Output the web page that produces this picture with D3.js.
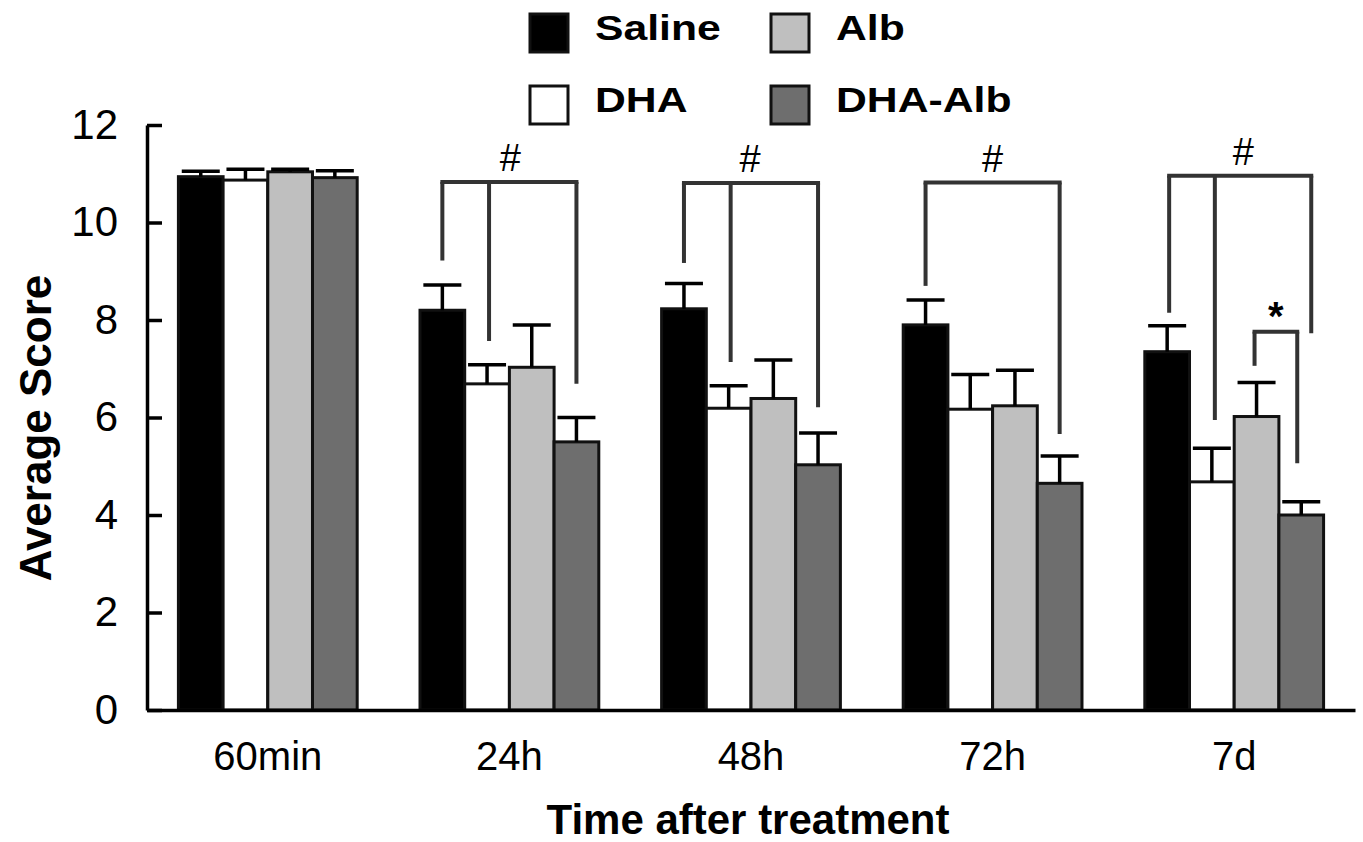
<!DOCTYPE html>
<html>
<head>
<meta charset="utf-8">
<script src="https://cdn.jsdelivr.net/npm/d3@7"></script>
<style>
  body { margin: 0; background: #fff; }
  text { font-family: "Liberation Sans", Arial, sans-serif; }
</style>
</head>
<body>
<div class="chart"></div>
<script>
// values
var times = ['60min', '24h', '48h', '72h', '7d'];
var groups = ['Saline', 'DHA', 'Alb', 'DHA-Alb'];
var colors = ['#000000', '#ffffff', '#bfbfbf', '#6e6e6e'];

var saline = [10.94, 8.2, 8.23, 7.9, 7.35];
var salineErr = [0.11, 0.52, 0.52, 0.51, 0.53];
var dha = [10.87, 6.69, 6.19, 6.17, 4.68];
var dhaErr = [0.22, 0.39, 0.46, 0.71, 0.69];
var alb = [11.04, 7.03, 6.39, 6.24, 6.02];
var albErr = [0.05, 0.87, 0.79, 0.73, 0.7];
var dhaAlb = [10.92, 5.5, 5.03, 4.65, 4.0];
var dhaAlbErr = [0.14, 0.5, 0.65, 0.56, 0.27];

var yTicks = [0, 2, 4, 6, 8, 10, 12];

// significance brackets: time, level, legs [series, bottom value, px offset], mark
var brackets = [
  {time: '24h', top: 10.83, legs: [['Saline', 9.22, 0], ['DHA', 7.57, 2], ['DHA-Alb', 6.69, 0]], mark: '#', dx: 1},
  {time: '48h', top: 10.81, legs: [['Saline', 9.17, 0], ['DHA', 7.14, 2], ['DHA-Alb', 6.21, 0]], mark: '#', dx: -1},
  {time: '72h', top: 10.82, legs: [['Saline', 8.7, 0], ['DHA-Alb', 5.66, 0]], mark: '#', dx: 0},
  {time: '7d', top: 10.96, legs: [['Saline', 8.15, 2], ['DHA', 5.95, 3], ['DHA-Alb', 7.73, 10]], mark: '#', dx: 9},
  {time: '7d', top: 7.76, legs: [['Alb', 7.06, -2], ['DHA-Alb', 5.06, -4]], mark: '*', dx: 0}
];

var series = [saline, dha, alb, dhaAlb];
var errs = [salineErr, dhaErr, albErr, dhaAlbErr];

var data = [];
times.forEach(function(t, i) {
  groups.forEach(function(g, j) {
    data.push({time: t, group: g, value: series[j][i], err: errs[j][i], color: colors[j]});
  });
});

var fullWidth = 1363;
var fullHeight = 842;

var svg = d3.select('.chart').append('svg')
  .attr('width', fullWidth)
  .attr('height', fullHeight);

var xScale = d3.scaleBand()
  .domain(times)
  .range([147, 1355])
  .paddingInner(0.26)
  .paddingOuter(0.13);

var xSub = d3.scaleBand()
  .domain(groups)
  .range([0, xScale.bandwidth()]);

var yScale = d3.scaleLinear()
  .domain([0, 12])
  .range([710, 125]);

// bars
svg.append('g').selectAll('rect.bar')
    .data(data)
  .enter().append('rect')
    .attr('x', function(d) { return xScale(d.time) + xSub(d.group); })
    .attr('width', xSub.bandwidth())
    .attr('y', function(d) { return yScale(d.value); })
    .attr('height', function(d) { return yScale(0) - yScale(d.value); })
    .attr('fill', function(d) { return d.color; })
    .attr('stroke', '#111')
    .attr('stroke-width', 3);

// error bars (upper only)
var errG = svg.append('g').attr('stroke', '#000').attr('stroke-width', 3.5);
data.forEach(function(d) {
  var cx = xScale(d.time) + xSub(d.group) + xSub.bandwidth() / 2;
  errG.append('line')
    .attr('x1', cx).attr('x2', cx)
    .attr('y1', yScale(d.value)).attr('y2', yScale(d.value + d.err));
  errG.append('line')
    .attr('x1', cx - 19).attr('x2', cx + 19)
    .attr('y1', yScale(d.value + d.err)).attr('y2', yScale(d.value + d.err));
});

// brackets
var brG = svg.append('g');
brackets.forEach(function(b) {
  var xs = b.legs.map(function(l) {
    return xScale(b.time) + xSub(l[0]) + xSub.bandwidth() / 2 + l[2];
  });
  var yTop = yScale(b.top);
  brG.append('line')
    .attr('x1', d3.min(xs) - 2).attr('x2', d3.max(xs) + 2)
    .attr('y1', yTop).attr('y2', yTop)
    .attr('stroke', '#333').attr('stroke-width', 4);
  b.legs.forEach(function(l, i) {
    brG.append('line')
      .attr('x1', xs[i]).attr('x2', xs[i])
      .attr('y1', yTop).attr('y2', yScale(l[1]))
      .attr('stroke', '#333').attr('stroke-width', 4);
  });
  var isHash = b.mark == '#';
  var mx = isHash ? xScale(b.time) + xScale.bandwidth() / 2 + b.dx : (d3.min(xs) + d3.max(xs)) / 2;
  brG.append('text')
    .attr('x', mx)
    .attr('y', isHash ? yTop - 11 : yTop - 2)
    .attr('text-anchor', 'middle')
    .style('font-size', isHash ? '38px' : '40px')
    .style('font-weight', isHash ? 'normal' : 'bold')
    .text(b.mark);
});

// axes
var yAxis = d3.axisLeft(yScale)
  .tickValues(yTicks)
  .tickSizeInner(-15)
  .tickSizeOuter(0)
  .tickPadding(29);

var yAxisEle = svg.append('g')
  .attr('transform', 'translate(147,0)')
  .call(yAxis);
yAxisEle.selectAll('line, path').attr('stroke', '#000').attr('stroke-width', 3.5);
yAxisEle.selectAll('text').style('font-size', '42px').attr('fill', '#000')
  .attr('font-family', null);

var xAxis = d3.axisBottom(xScale)
  .tickSize(0)
  .tickPadding(32);

var xAxisEle = svg.append('g')
  .attr('transform', 'translate(0,710)')
  .call(xAxis);
xAxisEle.select('path').attr('stroke', '#000').attr('stroke-width', 3.5);
xAxisEle.selectAll('text').style('font-size', '40px').attr('fill', '#000')
  .attr('font-family', null);

// axis titles
svg.append('text')
  .attr('transform', 'translate(51,428) rotate(-90)')
  .attr('text-anchor', 'middle')
  .style('font-size', '44px')
  .style('font-weight', 'bold')
  .text('Average Score');

svg.append('text')
  .attr('x', 748)
  .attr('y', 834)
  .attr('text-anchor', 'middle')
  .style('font-size', '42px')
  .style('font-weight', 'bold')
  .text('Time after treatment');

// legend
var legendPos = [[530, 14], [530, 86], [771, 14], [771, 86]];
var legend = svg.append('g');
groups.forEach(function(g, i) {
  var p = legendPos[i];
  legend.append('rect')
    .attr('x', p[0]).attr('y', p[1])
    .attr('width', 38).attr('height', 38)
    .attr('fill', colors[i])
    .attr('stroke', '#111')
    .attr('stroke-width', 3);
  legend.append('text')
    .attr('transform', 'translate(' + (p[0] + 65) + ',' + (p[1] + 26) + ') scale(1.22,1)')
    .style('font-size', '35px')
    .style('font-weight', 'bold')
    .text(g);
});
</script>
</body>
</html>
